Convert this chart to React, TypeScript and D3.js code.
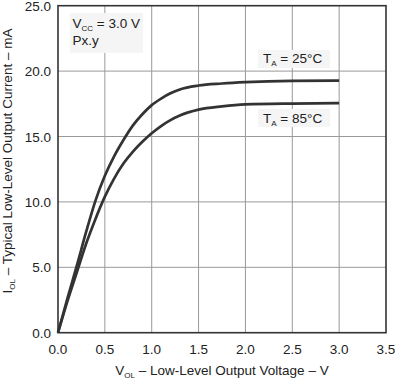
import React from "react";
import * as d3 from "d3";

const xTicks = [0, 0.5, 1.0, 1.5, 2.0, 2.5, 3.0, 3.5];
const yTicks = [0, 5, 10, 15, 20, 25];

const v25 = [0, 0.1, 0.2, 0.3, 0.4, 0.5, 0.6, 0.7, 0.8, 0.9, 1.0, 1.1, 1.2, 1.3, 1.5, 1.75, 2.0, 2.5, 3.0];
const i25 = [0, 2.6, 5.1, 7.7, 10.1, 12.0, 13.5, 14.75, 15.85, 16.7, 17.4, 17.9, 18.3, 18.6, 18.9, 19.05, 19.15, 19.25, 19.27];
const v85 = [0, 0.1, 0.2, 0.3, 0.4, 0.5, 0.6, 0.7, 0.8, 0.9, 1.0, 1.1, 1.2, 1.3, 1.5, 1.75, 2.0, 2.5, 3.0];
const i85 = [0, 2.4, 4.6, 6.8, 8.7, 10.4, 11.8, 12.95, 13.85, 14.6, 15.25, 15.8, 16.25, 16.6, 17.05, 17.3, 17.45, 17.52, 17.55];

const W = 395, H = 379;
const left = 58, right = 386, top = 5.7, bottom = 332.7;
const font = "'Liberation Sans', Arial, sans-serif";

export default function App() {
  const x = d3.scaleLinear().domain([0, 3.5]).range([left, right]);
  const y = d3.scaleLinear().domain([0, 25]).range([bottom, top]);
  const line = d3.line<[number, number]>().x(d => x(d[0])).y(d => y(d[1])).curve(d3.curveMonotoneX);
  const d25 = line(v25.map((v, i) => [v, i25[i]] as [number, number])) || "";
  const d85 = line(v85.map((v, i) => [v, i85[i]] as [number, number])) || "";
  return (
    <svg width={W} height={H} style={{ position: "absolute", left: 0, top: 0, background: "#fff" }} fontFamily={font}>
      {xTicks.slice(1, -1).map(t => (
        <line key={"gx" + t} x1={x(t)} x2={x(t)} y1={top} y2={bottom} stroke="#999" strokeWidth={1} />
      ))}
      {yTicks.slice(1, -1).map(t => (
        <line key={"gy" + t} x1={left} x2={right} y1={y(t)} y2={y(t)} stroke="#999" strokeWidth={1} />
      ))}
      <rect x={70} y={13} width={73} height={40} fill="#f5f5f5" />
      <rect x={258} y={50} width={72} height={18} fill="#f5f5f5" />
      <rect x={258} y={109} width={72} height={18} fill="#f5f5f5" />
      <text x={72.5} y={28} fontSize={13.5} fill="#222">V<tspan fontSize={8} dy={3}>CC</tspan><tspan dy={-3}> = 3.0 V</tspan></text>
      <text x={72.5} y={45} fontSize={13.5} fill="#222">Px.y</text>
      <text x={263} y={63} fontSize={13.5} fill="#222">T<tspan fontSize={8} dy={3}>A</tspan><tspan dy={-3}> = 25°C</tspan></text>
      <text x={263} y={123} fontSize={13.5} fill="#222">T<tspan fontSize={8} dy={3}>A</tspan><tspan dy={-3}> = 85°C</tspan></text>
      <path d={d25} fill="none" stroke="#333" strokeWidth={2.7} />
      <path d={d85} fill="none" stroke="#333" strokeWidth={2.7} />
      <rect x={left} y={top} width={right - left} height={bottom - top} fill="none" stroke="#333" strokeWidth={1.6} />
      {yTicks.map(t => (
        <text key={"ty" + t} x={51} y={y(t) + 5} textAnchor="end" fontSize={13.5} fill="#222">{t.toFixed(1)}</text>
      ))}
      {xTicks.map(t => (
        <text key={"tx" + t} x={x(t)} y={354} textAnchor="middle" fontSize={13.5} fill="#222">{t.toFixed(1)}</text>
      ))}
      <text x={(left + right) / 2} y={375} textAnchor="middle" fontSize={13.5} fill="#222">V<tspan fontSize={8} dy={3}>OL</tspan><tspan dy={-3}> – Low-Level Output Voltage – V</tspan></text>
      <text transform={`translate(12, 161) rotate(-90)`} textAnchor="middle" fontSize={13.5} fill="#222">I<tspan fontSize={8} dy={3}>OL</tspan><tspan dy={-3}> – Typical Low-Level Output Current – mA</tspan></text>
    </svg>
  );
}
